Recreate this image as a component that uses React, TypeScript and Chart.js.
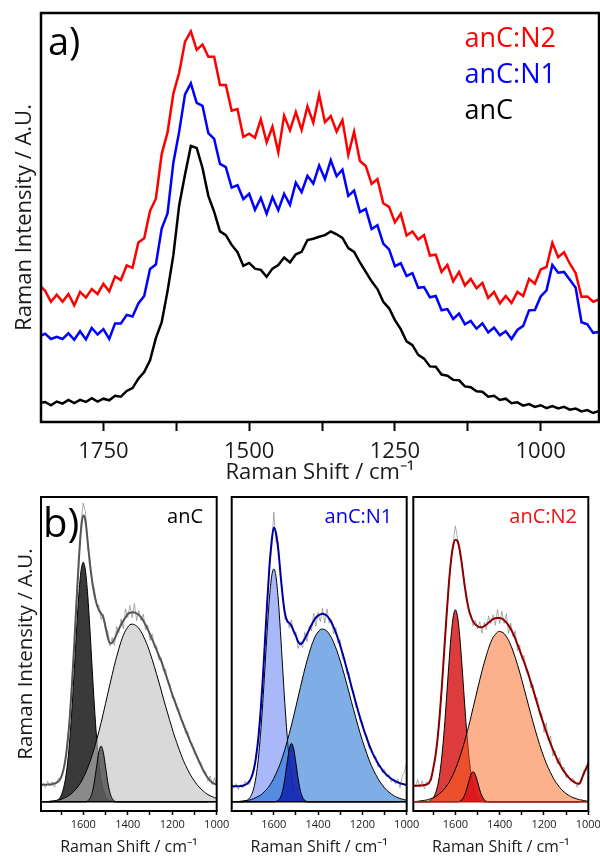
import React, { useEffect, useRef } from "react";
import { Chart, registerables } from "chart.js";

Chart.register(...registerables);

const FONT = '"Open Sans", sans-serif';
const INK = "#1a1a1a";

// ---------- panel a) : wavenumber grid (cm-1) ----------
const topShift = Array.from({ length: 97 }, (_, i) => 1860 - 10 * i);

const topAnC = [4.6,
  4.9, 4.1, 5.0, 4.5, 5.4, 4.6, 5.4, 4.9, 5.8, 5.0,
  5.7, 5.3, 6.4, 6.2, 7.6, 8.3, 10.6, 12.2, 15.1, 20.5,
  24.4, 32.0, 40.8, 53.0, 60.5, 67.5, 67.0, 62.1, 55.3, 51.4,
  46.6, 45.7, 43.3, 41.5, 38.2, 38.9, 37.5, 37.2, 35.5, 37.5,
  38.4, 40.2, 39.0, 41.0, 41.6, 44.5, 44.8, 45.3, 45.7, 46.6,
  45.9, 45.0, 42.5, 41.6, 39.0, 36.7, 34.4, 32.5, 29.4, 27.8,
  24.9, 22.7, 19.7, 18.8, 16.4, 15.5, 13.6, 13.5, 11.6, 11.3,
  10.3, 10.2, 8.7, 8.5, 7.5, 7.4, 6.2, 6.4, 5.4, 5.7,
  4.6, 4.8, 4.0, 4.4, 3.7, 4.1, 3.4, 3.9, 3.3, 3.7,
  3.0, 3.3, 2.6, 2.9, 2.2, 2.7];

const topAnCN1 = [20.9,
  21.6, 20.3, 20.8, 20.3, 21.7, 20.1, 22.2, 20.2, 23.0, 21.4,
  22.7, 20.3, 24.1, 24.1, 26.2, 25.8, 29.0, 30.8, 37.4, 38.5,
  47.3, 51.0, 63.4, 71.0, 80.1, 82.8, 78.0, 77.3, 70.6, 69.2,
  63.1, 62.3, 57.3, 57.9, 54.5, 55.8, 51.9, 54.8, 50.9, 55.0,
  51.8, 55.8, 53.1, 58.5, 56.2, 60.2, 58.3, 62.7, 59.4, 64.0,
  60.1, 61.7, 55.3, 56.6, 51.3, 52.1, 47.2, 48.1, 43.6, 42.2,
  38.1, 38.8, 35.7, 36.4, 32.8, 33.0, 30.5, 30.8, 27.3, 27.6,
  25.2, 26.5, 23.9, 24.7, 22.8, 24.1, 21.9, 23.1, 21.2, 22.2,
  20.3, 22.5, 23.5, 27.3, 27.4, 30.7, 32.2, 38.4, 36.5, 36.7,
  34.8, 32.8, 24.4, 23.9, 21.8, 22.0];

const topAnCN2 = [33.5,
  32.1, 29.4, 31.1, 29.4, 31.3, 28.5, 31.8, 30.4, 32.5, 31.3,
  33.8, 31.9, 35.6, 34.7, 38.3, 37.7, 43.9, 44.9, 51.6, 54.6,
  65.5, 70.8, 80.3, 85.4, 93.0, 95.5, 91.0, 92.3, 89.3, 89.3,
  82.4, 82.4, 76.1, 76.5, 69.7, 70.5, 69.5, 74.0, 68.4, 72.2,
  65.9, 74.9, 71.3, 75.8, 71.4, 77.2, 73.2, 80.0, 73.3, 74.8,
  71.0, 73.8, 65.3, 71.0, 63.8, 62.6, 58.2, 59.4, 53.5, 52.6,
  48.8, 50.9, 45.6, 46.6, 44.6, 45.7, 40.7, 40.9, 36.7, 38.4,
  34.4, 36.7, 33.4, 35.0, 32.7, 34.0, 30.3, 31.8, 29.0, 30.8,
  29.1, 31.8, 30.8, 35.0, 33.8, 37.3, 37.9, 43.8, 40.3, 41.5,
  38.7, 36.4, 30.6, 30.7, 29.4, 30.0];

const topTicks = [1750, 1625, 1500, 1375, 1250, 1125, 1000];
const topTickLabels = [1750, 1500, 1250, 1000];
const bottomTicks = [1700, 1600, 1500, 1400, 1300, 1200, 1100, 1000];
const bottomTickLabels = [1600, 1400, 1200, 1000];

// ---------- panel b) : wavenumber grid (cm-1) ----------
const fitShift = Array.from({ length: 80 }, (_, i) => 1790 - 10 * i);

// anC
const anC_G = [0, 0, 0, 0, 0, 0, 0.2, 0.4, 0.9, 2.0, 4.1, 7.6, 13.1, 21.1, 31.5, 43.8, 56.6, 67.9, 75.8, 78.6, 75.8, 67.9, 56.6, 43.8, 31.5, 21.1, 13.1, 7.6, 4.1, 2.0, 0.9, 0.4, 0.2,
  0, 0, 0, 0, 0, 0, 0, 0, 0, 0, 0, 0, 0, 0, 0, 0, 0, 0, 0, 0, 0, 0, 0, 0, 0, 0, 0, 0, 0, 0, 0, 0, 0, 0, 0, 0, 0, 0, 0, 0, 0, 0, 0, 0, 0, 0, 0];
const anC_D = [0.1,
  0.1, 0.1, 0.1, 0.2, 0.3, 0.4, 0.5, 0.6, 0.8, 1.1, 1.4, 1.8, 2.3, 2.9, 3.6, 4.4, 5.4, 6.5, 7.9, 9.4, 11.2, 13.1, 15.3, 17.7, 20.2, 23.0, 25.9, 29.0, 32.2, 35.4, 38.6, 41.7, 44.8, 47.6, 50.2, 52.6, 54.6, 56.2, 57.3, 58.1, 58.3,
  58.1, 57.7, 56.9, 55.8, 54.4, 52.8, 51.0, 48.9, 46.7, 44.3, 41.8, 39.3, 36.7, 34.0, 31.4, 28.9, 26.4, 24.0, 21.6, 19.5, 17.4, 15.5, 13.6, 12.0, 10.5, 9.1, 7.9, 6.8, 5.8, 4.9, 4.2, 3.5, 2.9, 2.4, 2.0, 1.7, 1.4, 1.1];
const anC_S = [0, 0, 0, 0, 0, 0, 0, 0, 0, 0, 0, 0, 0, 0, 0, 0, 0, 0, 0, 0, 0,
  0.3, 1.1, 3.0, 6.6, 11.6, 16.3, 18.3, 16.3, 11.6, 6.6, 3.0, 1.1, 0.3,
  0, 0, 0, 0, 0, 0, 0, 0, 0, 0, 0, 0, 0, 0, 0, 0, 0, 0, 0, 0, 0, 0, 0, 0, 0, 0, 0, 0, 0, 0, 0, 0, 0, 0, 0, 0, 0, 0, 0, 0, 0, 0];
const anC_fit = [5.6,
  5.6, 5.6, 5.7, 5.7, 5.8, 6.0, 6.3, 6.8, 8.0, 10.2,
  14.0, 19.9, 28.4, 39.4, 52.4, 66.0, 79.3, 89.3, 94.0, 92.2,
  85.4, 78.0, 72.5, 68.0, 65.0, 63.0, 61.8, 60.5, 57.5, 54.0,
  52.0, 52.2, 53.4, 55.0, 56.7, 58.1, 59.4, 60.5, 61.6, 62.0,
  62.2, 62.1, 61.8, 61.3, 60.5, 59.4, 58.1, 56.6, 55.0, 53.3,
  51.6, 49.8, 48.0, 46.3, 44.2, 42.0, 39.8, 37.5, 35.3, 33.3,
  31.3, 29.3, 27.3, 25.4, 23.6, 21.8, 20.0, 18.3, 16.7, 15.0,
  13.4, 11.8, 10.3, 9.0, 7.9, 7.0, 6.3, 5.9, 5.7];
const anC_raw = [5.1,
  6.2, 4.7, 6.8, 5.3, 6.6, 4.8, 6.6, 7.8, 7.3, 10.7,
  12.9, 21.3, 27.8, 41.4, 50.9, 67.2, 77.1, 91.9, 98.0, 95.2,
  83.0, 79.8, 71.2, 70.1, 64.2, 64.6, 59.8, 61.6, 56.1, 56.2,
  51.1, 53.9, 51.3, 57.5, 55.5, 60.0, 56.8, 63.3, 60.5, 64.4,
  60.4, 65.0, 59.5, 62.8, 59.5, 61.6, 56.4, 57.9, 53.0, 55.1,
  50.7, 51.2, 46.4, 47.3, 43.0, 43.6, 39.0, 38.6, 34.0, 34.2,
  30.3, 30.5, 26.6, 26.2, 22.5, 23.1, 19.4, 19.2, 15.7, 15.7,
  12.6, 12.9, 9.8, 9.9, 6.7, 8.5, 5.7, 7.9, 5.3];

// anC:N1
const n1_G = [0, 0, 0, 0, 0, 0, 0.2, 0.5, 1.2, 2.4, 4.6, 8.3, 14.0, 22.0, 32.2, 43.9, 55.9, 66.5, 73.8, 76.4, 73.8, 66.5, 55.9, 43.9, 32.2, 22.0, 14.0, 8.3, 4.6, 2.4, 1.2, 0.5, 0.2,
  0, 0, 0, 0, 0, 0, 0, 0, 0, 0, 0, 0, 0, 0, 0, 0, 0, 0, 0, 0, 0, 0, 0, 0, 0, 0, 0, 0, 0, 0, 0, 0, 0, 0, 0, 0, 0, 0, 0, 0, 0, 0, 0, 0, 0, 0, 0];
const n1_D = [0.1,
  0.1, 0.1, 0.1, 0.2, 0.3, 0.4, 0.5, 0.6, 0.8, 1.1, 1.4, 1.8, 2.2, 2.8, 3.5, 4.3, 5.2, 6.4, 7.7, 9.2, 10.9, 12.7, 14.9, 17.2, 19.7, 22.4, 25.2, 28.2, 31.3, 34.4, 37.5, 40.6, 43.6, 46.3, 48.8, 51.2, 53.1, 54.7, 55.7, 56.5, 56.7,
  56.5, 56.0, 55.1, 53.9, 52.3, 50.5, 48.5, 46.2, 43.8, 41.2, 38.5, 35.8, 33.0, 30.3, 27.6, 25.0, 22.5, 20.1, 17.9, 15.8, 13.8, 12.0, 10.4, 9.0, 7.7, 6.5, 5.5, 4.6, 3.8, 3.2, 2.6, 2.1, 1.7, 1.4, 1.1, 0.9, 0.7, 0.6];
const n1_S = [0, 0, 0, 0, 0, 0, 0, 0, 0, 0, 0, 0, 0, 0, 0, 0, 0, 0, 0, 0,
  0.1, 0.5, 1.5, 3.7, 7.6, 12.7, 17.3, 19.2, 17.3, 12.7, 7.6, 3.7, 1.5, 0.5, 0.1,
  0, 0, 0, 0, 0, 0, 0, 0, 0, 0, 0, 0, 0, 0, 0, 0, 0, 0, 0, 0, 0, 0, 0, 0, 0, 0, 0, 0, 0, 0, 0, 0, 0, 0, 0, 0, 0, 0, 0, 0, 0];
const n1_fit = [5.1,
  5.1, 5.1, 5.1, 5.2, 5.3, 5.6, 6.0, 6.8, 8.2, 10.7,
  14.7, 20.8, 29.2, 40.0, 52.4, 65.2, 76.7, 85.2, 90.0, 88.1,
  82.9, 75.1, 67.5, 62.0, 59.4, 58.7, 57.7, 56.0, 54.4, 52.5,
  51.7, 52.3, 53.5, 55.0, 56.5, 58.0, 59.3, 60.4, 61.1, 61.5,
  61.7, 61.5, 61.0, 60.1, 58.9, 57.3, 55.5, 53.5, 51.2, 48.8,
  46.2, 43.5, 40.8, 38.0, 35.3, 32.6, 30.0, 27.5, 25.1, 22.9,
  20.8, 18.8, 17.0, 15.4, 14.0, 12.7, 11.5, 10.5, 9.6, 8.8,
  8.2, 7.6, 7.1, 6.7, 6.4, 6.1, 5.9, 5.7, 5.6];
const n1_raw = [5.8,
  4.5, 6.0, 4.0, 5.6, 4.5, 6.8, 5.7, 5.8, 8.9, 10.2,
  15.8, 19.4, 29.8, 38.0, 53.9, 64.0, 78.9, 82.6, 95.0, 85.1,
  85.3, 73.3, 68.8, 59.9, 60.2, 57.1, 59.7, 54.9, 55.8, 50.3,
  52.6, 50.6, 55.6, 52.5, 57.7, 56.1, 61.9, 57.6, 62.2, 59.1,
  63.5, 58.6, 63.3, 58.6, 59.9, 55.1, 57.2, 52.2, 53.2, 47.0,
  47.1, 42.1, 42.4, 37.0, 36.5, 31.0, 30.8, 26.4, 26.4, 22.0,
  21.8, 17.6, 17.7, 14.6, 15.1, 11.4, 12.1, 9.6, 10.6, 8.1,
  9.0, 6.5, 7.6, 5.8, 7.6, 4.6, 8.5, 9.7, 13.0];

// anC:N2
const n2_G = [0, 0, 0, 0, 0, 0, 0, 0.2, 0.6, 1.3, 2.8, 5.3, 9.5, 15.7, 24.0, 34.0, 44.5, 54.0, 60.6, 63.0, 60.6, 54.0, 44.5, 34.0, 24.0, 15.7, 9.5, 5.3, 2.8, 1.3, 0.6, 0.2,
  0, 0, 0, 0, 0, 0, 0, 0, 0, 0, 0, 0, 0, 0, 0, 0, 0, 0, 0, 0, 0, 0, 0, 0, 0, 0, 0, 0, 0, 0, 0, 0, 0, 0, 0, 0, 0, 0, 0, 0, 0, 0, 0, 0, 0, 0, 0, 0];
const n2_D = [0.1,
  0.1, 0.2, 0.3, 0.4, 0.5, 0.6, 0.8, 1.1, 1.3, 1.7, 2.2, 2.8, 3.5, 4.2, 5.2, 6.2, 7.6, 9.0, 10.7, 12.6, 14.7, 17.0, 19.4, 22.1, 24.8, 27.8, 30.9, 33.9, 37.0, 40.0, 42.9, 45.6, 48.1, 50.4, 52.4, 53.9, 54.9, 55.7, 55.9,
  55.7, 55.2, 54.2, 53.0, 51.4, 49.5, 47.4, 45.1, 42.6, 40.0, 37.2, 34.5, 31.7, 28.9, 26.3, 23.7, 21.2, 18.8, 16.6, 14.6, 12.7, 11.0, 9.5, 8.1, 6.8, 5.8, 4.8, 4.0, 3.3, 2.7, 2.2, 1.8, 1.4, 1.2, 0.9, 0.7, 0.6, 0.4, 0.3, 0.2];
const n2_S = [0, 0, 0, 0, 0, 0, 0, 0, 0, 0, 0, 0, 0, 0, 0, 0, 0, 0, 0, 0, 0,
  0.2, 0.7, 1.9, 3.9, 6.6, 8.9, 9.9, 8.9, 6.6, 3.9, 1.9, 0.7, 0.2,
  0, 0, 0, 0, 0, 0, 0, 0, 0, 0, 0, 0, 0, 0, 0, 0, 0, 0, 0, 0, 0, 0, 0, 0, 0, 0, 0, 0, 0, 0, 0, 0, 0, 0, 0, 0, 0, 0, 0, 0, 0, 0];
const n2_fit = [5.3,
  5.3, 5.3, 5.4, 5.4, 5.5, 5.7, 6.2, 7.5, 11.0, 15.0,
  21.0, 29.0, 39.0, 50.0, 61.0, 71.0, 79.0, 84.0, 86.0, 85.5,
  82.5, 77.5, 72.0, 67.0, 63.3, 60.8, 59.2, 58.2, 57.6, 57.3,
  57.3, 57.6, 58.2, 58.8, 59.4, 59.9, 60.2, 60.3, 60.3, 60.1,
  59.6, 58.9, 57.9, 56.7, 55.3, 53.6, 51.7, 49.8, 47.8, 45.9,
  43.9, 41.7, 39.4, 37.0, 34.6, 32.1, 29.7, 27.4, 25.2, 23.0,
  21.0, 19.0, 17.2, 15.5, 13.9, 12.5, 11.2, 10.0, 9.0, 8.1,
  7.4, 6.8, 6.3, 6.0, 5.9, 7.5, 9.3, 11.0, 12.5];
const n2_raw = [5.9,
  4.9, 7.3, 4.8, 6.9, 4.3, 6.6, 5.7, 8.6, 10.2, 15.7,
  20.0, 29.9, 38.4, 51.3, 59.9, 71.8, 78.3, 85.2, 90.5, 86.4,
  81.2, 78.6, 71.2, 68.6, 62.1, 61.8, 57.6, 59.6, 56.7, 59.1,
  55.3, 58.9, 56.5, 61.0, 58.4, 61.4, 57.9, 63.2, 58.5, 62.5,
  58.5, 61.7, 55.3, 58.6, 54.1, 56.1, 49.6, 51.5, 46.9, 48.1,
  42.5, 42.8, 37.4, 38.6, 33.8, 34.2, 28.4, 29.2, 22.8, 26.0,
  20.0, 21.6, 15.0, 16.7, 12.4, 14.5, 10.6, 11.4, 7.9, 8.6,
  6.7, 7.8, 6.6, 4.8, 6.7, 7.1, 10.4, 10.1, 13.1];

// ---------- helpers ----------
const pts = (xs: number[], ys: number[]) => xs.map((x, i) => ({ x, y: ys[i] }));

const framePlugin = {
  id: "frame",
  afterDatasetsDraw(chart: any, _args: any, opts: any) {
    const { ctx, chartArea } = chart;
    const { left, top, right, bottom } = chartArea;
    ctx.save();
    if (opts.baseline) {
      const y0 = chart.scales.y.getPixelForValue(0);
      ctx.strokeStyle = opts.baselineColor || "#000";
      ctx.lineWidth = 1.5;
      ctx.beginPath();
      ctx.moveTo(left, y0);
      ctx.lineTo(right, y0);
      ctx.stroke();
    }
    ctx.strokeStyle = "#000";
    ctx.lineWidth = opts.width || 2;
    ctx.strokeRect(left, top, right - left, bottom - top);
    ctx.restore();
  },
};

function topConfig(): any {
  return {
    type: "line",
    data: {
      datasets: [
        { label: "anC", data: pts(topShift, topAnC), borderColor: "#000000", borderWidth: 2.5, pointRadius: 0, tension: 0 },
        { label: "anC:N1", data: pts(topShift, topAnCN1), borderColor: "#0000ff", borderWidth: 2.5, pointRadius: 0, tension: 0 },
        { label: "anC:N2", data: pts(topShift, topAnCN2), borderColor: "#ff0000", borderWidth: 2.5, pointRadius: 0, tension: 0 },
      ],
    },
    options: {
      animation: false,
      responsive: false,
      devicePixelRatio: 1,
      events: [],
      layout: { padding: { top: 13, right: 1, left: 0, bottom: 0 } },
      plugins: { legend: { display: false }, tooltip: { enabled: false }, frame: { width: 2.5 } },
      scales: {
        x: {
          type: "linear",
          reverse: true,
          min: 900,
          max: 1857,
          afterFit: (s: any) => { s.height = 68; },
          afterBuildTicks: (s: any) => { s.ticks = topTicks.map((v) => ({ value: v })); },
          border: { display: false },
          grid: { display: true, drawOnChartArea: false, drawTicks: true, tickLength: 9, tickWidth: 2, tickColor: "#000" },
          ticks: {
            autoSkip: false,
            maxRotation: 0,
            padding: 8,
            color: INK,
            font: { family: FONT, size: 22 },
            callback: (v: any) => (topTickLabels.includes(Number(v)) ? String(v) : ""),
          },
          title: { display: true, text: "Raman Shift / cm\u207B\u00B9", color: INK, font: { family: FONT, size: 22 }, padding: { top: 0, bottom: 4 } },
        },
        y: {
          min: 0,
          max: 100,
          afterFit: (s: any) => { s.width = 41; },
          border: { display: false },
          grid: { display: false },
          ticks: { display: false },
          title: { display: true, text: "Raman Intensity / A.U.", color: INK, font: { family: FONT, size: 22 }, padding: { top: 12, bottom: 0 } },
        },
      },
    },
  };
}

type PanelSpec = {
  G: number[]; D: number[]; S: number[]; fit: number[]; raw: number[];
  gColor: string; dColor: string; sColor: string; fitColor: string;
  padLeft: number; padRight: number; showY: boolean; baselineColor: string;
};

function panelConfig(p: PanelSpec): any {
  const comp = (data: number[], color: string) => ({
    data: pts(fitShift, data), backgroundColor: color, borderColor: "#000", borderWidth: 1,
    fill: "origin", pointRadius: 0, cubicInterpolationMode: "monotone",
  });
  const yScale: any = {
    display: p.showY,
    min: -3,
    max: 100,
    border: { display: false },
    grid: { display: false },
    ticks: { display: false },
    title: { display: true, text: "Raman Intensity / A.U.", color: INK, font: { family: FONT, size: 20.5 }, padding: { top: 14, bottom: 0 } },
  };
  if (p.showY) yScale.afterFit = (s: any) => { s.width = 41; };
  return {
    type: "line",
    data: {
      datasets: [
        { data: pts(fitShift, p.fit), borderColor: p.fitColor, borderWidth: 2, pointRadius: 0, cubicInterpolationMode: "monotone", fill: false },
        { data: pts(fitShift, p.raw), borderColor: "rgba(120,120,120,0.6)", borderWidth: 1, pointRadius: 0, tension: 0, fill: false },
        comp(p.S, p.sColor),
        comp(p.D, p.dColor),
        comp(p.G, p.gColor),
      ],
    },
    options: {
      animation: false,
      responsive: false,
      devicePixelRatio: 1,
      events: [],
      layout: { padding: { top: 7, right: p.padRight, left: p.padLeft, bottom: 0 } },
      plugins: { legend: { display: false }, tooltip: { enabled: false }, frame: { width: 2, baseline: true, baselineColor: p.baselineColor } },
      scales: {
        x: {
          type: "linear",
          reverse: true,
          min: 1000,
          max: 1790,
          afterFit: (s: any) => { s.height = 46; },
          afterBuildTicks: (s: any) => { s.ticks = bottomTicks.map((v) => ({ value: v })); },
          border: { display: false },
          grid: { display: true, drawOnChartArea: false, drawTicks: true, tickLength: 4, tickWidth: 1.5, tickColor: "#000" },
          ticks: {
            autoSkip: false,
            maxRotation: 0,
            padding: 3,
            color: INK,
            font: { family: FONT, size: 11 },
            callback: (v: any) => (bottomTickLabels.includes(Number(v)) ? String(v) : ""),
          },
          title: { display: true, text: "Raman Shift / cm\u207B\u00B9", color: INK, font: { family: FONT, size: 16 }, padding: { top: 0, bottom: 0 } },
        },
        y: yScale,
      },
    },
  };
}

function ChartCanvas({ make, width, height, left, top }: { make: () => any; width: number; height: number; left: number; top: number }) {
  const ref = useRef<HTMLCanvasElement>(null);
  useEffect(() => {
    const cfg = make();
    cfg.plugins = [framePlugin];
    const chart = new Chart(ref.current as HTMLCanvasElement, cfg);
    return () => chart.destroy();
  }, []);
  return <canvas ref={ref} width={width} height={height} style={{ position: "absolute", left, top, width, height }} />;
}

const txt = (style: React.CSSProperties): React.CSSProperties => ({
  position: "absolute",
  fontFamily: FONT,
  lineHeight: 1,
  whiteSpace: "nowrap",
  ...style,
});

export default function App() {
  return (
    <div style={{ position: "absolute", left: 0, top: 0, width: 600, height: 857, overflow: "hidden", background: "#fff" }}>
      <ChartCanvas make={topConfig} width={600} height={490} left={0} top={0} />
      <ChartCanvas
        make={() => panelConfig({ G: anC_G, D: anC_D, S: anC_S, fit: anC_fit, raw: anC_raw,
          gColor: "rgba(58,58,58,1)", dColor: "rgba(192,192,192,0.6)", sColor: "rgba(70,70,70,0.75)", fitColor: "#555555",
          padLeft: 0, padRight: 383.3, showY: true, baselineColor: "#000" })}
        width={600} height={367} left={0} top={490} />
      <ChartCanvas
        make={() => panelConfig({ G: n1_G, D: n1_D, S: n1_S, fit: n1_fit, raw: n1_raw,
          gColor: "rgba(168,184,248,1)", dColor: "rgba(0,93,205,0.5)", sColor: "rgba(20,40,175,0.9)", fitColor: "#0000a0",
          padLeft: 231.7, padRight: 193.3, showY: false, baselineColor: "#000" })}
        width={600} height={367} left={0} top={490} />
      <ChartCanvas
        make={() => panelConfig({ G: n2_G, D: n2_D, S: n2_S, fit: n2_fit, raw: n2_raw,
          gColor: "rgba(220,60,60,1)", dColor: "rgba(249,97,25,0.5)", sColor: "rgba(220,20,25,0.9)", fitColor: "#8b0000",
          padLeft: 413.3, padRight: 31.7, showY: false, baselineColor: "#c01818" })}
        width={620} height={367} left={0} top={490} />

      <div style={txt({ left: 48, top: 21, fontSize: 38, color: "#000" })}>a)</div>
      <div style={txt({ left: 464.5, top: 22.5, fontSize: 27, color: "#ff0000" })}>anC:N2</div>
      <div style={txt({ left: 464.5, top: 58.5, fontSize: 27, color: "#0000ff" })}>anC:N1</div>
      <div style={txt({ left: 464.5, top: 94.5, fontSize: 27, color: "#000" })}>anC</div>

      <div style={txt({ left: 43, top: 502, fontSize: 40, color: "#000" })}>b)</div>
      <div style={txt({ right: 397, top: 506, fontSize: 20, color: "#000" })}>anC</div>
      <div style={txt({ right: 207.7, top: 506, fontSize: 20, color: "#0000ee" })}>anC:N1</div>
      <div style={txt({ right: 23, top: 506, fontSize: 20, color: "#ee1111" })}>anC:N2</div>
    </div>
  );
}
